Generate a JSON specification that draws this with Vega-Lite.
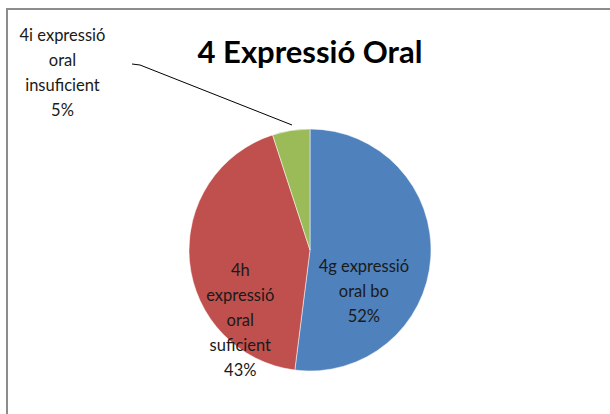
{
  "$schema": "https://vega.github.io/schema/vega-lite/v6.json",
  "width": 606,
  "height": 482,
  "autosize": {"type": "none"},
  "padding": {"left": 7, "top": 9, "right": 0, "bottom": 0},
  "background": "white",
  "view": {"stroke": "#8c8c8c", "strokeWidth": 2, "fill": "white"},
  "title": {
    "text": "4 Expressió Oral",
    "anchor": "middle",
    "frame": "group",
    "orient": "top",
    "baseline": "alphabetic",
    "offset": 0,
    "dy": 85,
    "font": "Lato",
    "fontSize": 31,
    "fontWeight": "bold",
    "color": "#000000"
  },
  "data": {
    "values": [
      {"categoria": "4g expressió oral bo", "percent": 52, "ordre": 1, "etiqueta": "4g expressió\noral bo\n52%"},
      {"categoria": "4h expressió oral suficient", "percent": 43, "ordre": 2, "etiqueta": "4h\nexpressió\noral\nsuficient\n43%"},
      {"categoria": "4i expressió oral insuficient", "percent": 5, "ordre": 3, "etiqueta": "4i expressió\noral\ninsuficient\n5%"}
    ]
  },
  "encoding": {
    "theta": {"field": "percent", "type": "quantitative", "stack": true},
    "order": {"field": "ordre", "type": "ordinal"}
  },
  "layer": [
    {
      "mark": {"type": "arc", "outerRadius": 121, "stroke": "#ffffff", "strokeWidth": 0.5},
      "encoding": {
        "color": {
          "field": "categoria",
          "type": "nominal",
          "scale": {
            "domain": ["4g expressió oral bo", "4h expressió oral suficient", "4i expressió oral insuficient"],
            "range": ["#4f81bd", "#c0504d", "#9bbb59"]
          },
          "legend": null
        }
      }
    },
    {
      "mark": {
        "type": "text",
        "radius": {"expr": "datum.ordre == 3 ? 240 : 60"},
        "dx": {"expr": "datum.ordre == 1 ? -6 : datum.ordre == 2 ? -10 : -210"},
        "dy": {"expr": "datum.ordre == 1 ? 13 : datum.ordre == 2 ? 15 : 23"},
        "align": "center",
        "baseline": "middle",
        "lineBreak": "\n",
        "lineHeight": 25,
        "font": "Lato",
        "fontSize": 16.5,
        "color": "#1a1a1a"
      },
      "encoding": {
        "text": {"field": "etiqueta", "type": "nominal"}
      }
    },
    {
      "data": {"values": [{"guia": "4i"}]},
      "mark": {"type": "rule", "color": "#000000", "strokeWidth": 1},
      "encoding": {
        "x": {"value": {"expr": "width/2 - 170"}},
        "y": {"value": {"expr": "height/2 - 185"}},
        "x2": {"value": {"expr": "width/2 - 18"}},
        "y2": {"value": {"expr": "height/2 - 125"}}
      }
    },
    {
      "data": {"values": [{"guia": "4i"}]},
      "mark": {"type": "rule", "color": "#000000", "strokeWidth": 1},
      "encoding": {
        "x": {"value": {"expr": "width/2 - 178"}},
        "y": {"value": {"expr": "height/2 - 186"}},
        "x2": {"value": {"expr": "width/2 - 170"}},
        "y2": {"value": {"expr": "height/2 - 185"}}
      }
    }
  ]
}
